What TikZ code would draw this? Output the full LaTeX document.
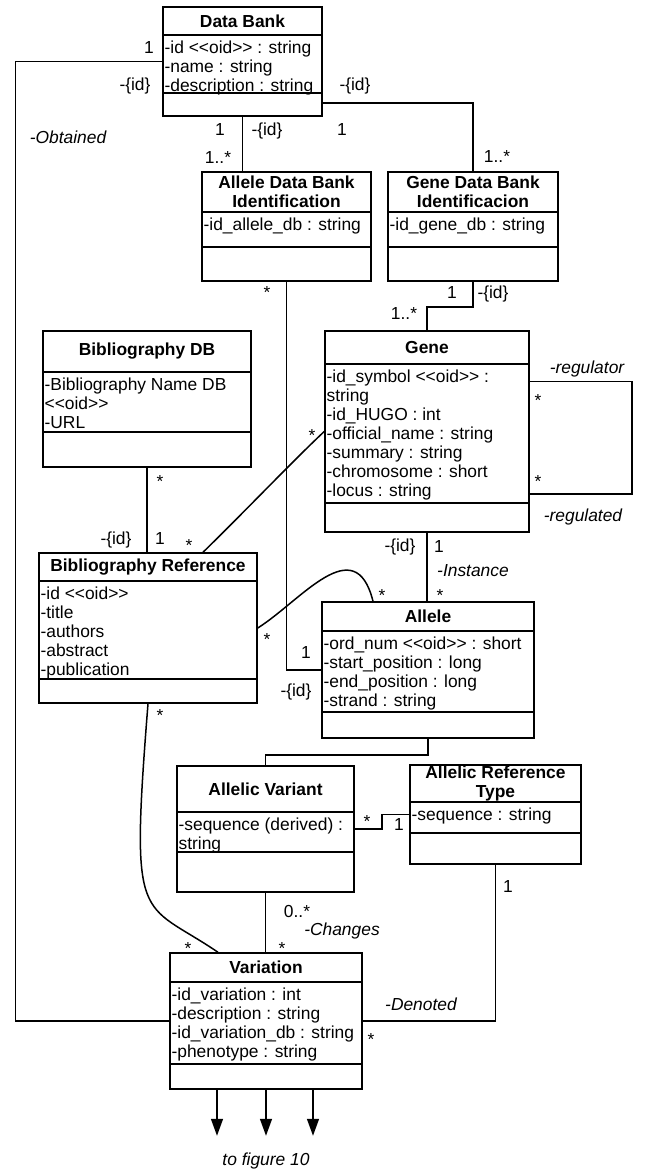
\documentclass[tikz,border=0pt]{standalone}
\usepackage{fontspec}
\setmainfont{Liberation Sans}
\usetikzlibrary{arrows.meta,fit,calc}
\newcommand{\oidtag}{<\kern0pt<oid>\kern0pt>}
% #1 name, #2/#3 top left, #4/#5 bottom right, #6/#7 compartment lines, #8 title, #9 attributes
\newcommand{\umlclass}[9]{%
  \node[cls,fit={(#2,#3) (#4,#5)}] (#1) {};
  \draw[asc] (#2,#6) -- (#4,#6) (#2,#7) -- (#4,#7);
  \node[cname] (#1-n) at ($(#2,#3)!0.5!(#4,#6)$) {#8};
  \foreach \atxt [count=\cnt from 0] in {#9}
    \node[cattr] (#1-a\cnt) at (#2,{#6+18.5+19*\cnt}) {\atxt};
}

\begin{document}
\begin{tikzpicture}[x=0.5pt,y=-0.5pt,font=\fontsize{8.7}{9.5}\selectfont,
  cls/.style={draw,line width=0.75pt,inner sep=0pt},
  asc/.style={line width=0.75pt},
  cname/.style={font=\fontsize{8.7}{9.5}\selectfont\bfseries,align=center,inner sep=0pt},
  cattr/.style={anchor=base west,inner sep=0pt,xshift=0.6pt},
  lbl/.style={anchor=base,inner sep=0pt},
  role/.style={lbl,font=\fontsize{8.7}{9.5}\selectfont\itshape},
  tofig/.style={-{Triangle[length=8.5pt,width=6pt]},line width=0.75pt}]
\useasboundingbox (0,0) rectangle (644,1169);
% ---------------- classes
\umlclass{db}{163}{7}{322}{116}{35}{93}{Data Bank}
  {-id \oidtag{} : string,-name : string,-description : string}
\umlclass{adb}{202}{172}{371}{281}{212}{247}{Allele Data Bank\\Identification}
  {-id\_allele\_db : string}
\umlclass{gdb}{388}{172}{558}{281}{212}{247}{Gene Data Bank\\Identificacion}
  {-id\_gene\_db : string}
\umlclass{bdb}{43}{331}{251}{467}{372}{432}{Bibliography DB}
  {-Bibliography Name DB,\oidtag,-URL}
\umlclass{gene}{325}{331}{529}{532}{364}{503}{Gene}
  {-id\_symbol \oidtag{} :,string,-id\_HUGO : int,-official\_name : string,
   -summary : string,-chromosome : short,-locus : string}
\umlclass{bref}{39}{553}{257}{703}{581}{679}{Bibliography Reference}
  {-id \oidtag,-title,-authors,-abstract,-publication}
\umlclass{allele}{322}{602}{534}{738}{631}{712}{Allele}
  {-ord\_num \oidtag{} : short,-start\_position : long,-end\_position : long,-strand : string}
\umlclass{av}{177}{766}{354}{892}{812}{852}{Allelic Variant}
  {-sequence (derived) :,string}
\umlclass{art}{410}{765}{581}{864}{802}{833}{Allelic Reference\\Type}
  {-sequence : string}
\umlclass{var}{170}{953}{362}{1089}{982}{1064}{Variation}
  {-id\_variation : int,-description : string,-id\_variation\_db : string,-phenotype : string}
% ---------------- associations
\draw[asc] (db.west) -- ++(-147,0) |- (var.west);
\draw[asc] ([yshift=7pt]db.south east) -| (gdb.north);
\draw[asc] (db.south) -- (db.south |- adb.north);
\draw[asc] (gdb.south) -- ++(0,25) -| (gene.north);
\draw[asc] (adb.south) |- (allele.west);
\draw[asc] (bdb.south) -- (bdb.south |- bref.north);
\draw[asc] (gene.south) -- (gene.south |- allele.north);
\draw[asc] ([yshift=-25.5pt]gene.north east) -- ++(102,0) |- ([yshift=19.5pt]gene.south east);
\draw[asc] (allele.south) -- ++(0,16) -| (av.north);
\draw[asc] (av.east) -- ++(27,0) |- (art.west);
\draw[asc] (av.south) -- (av.south |- var.north);
\draw[asc] (art.south) |- (var.east);
\draw[asc] ([xshift=27.5pt]bref.north) .. controls +(42,-41) and +(-30,28) .. (gene.west);
\draw[asc] (bref.east) .. controls +(43,-27) and +(-18,-72) .. ([xshift=-27.5pt]allele.north);
\draw[asc] (bref.south) .. controls +(-18,227) and +(-78,-53) .. ([xshift=-24pt]var.north);
\foreach \dx in {-24.5,0,23.5} \draw[tofig] ([xshift=\dx pt]var.south) -- ++(0,46);
% ---------------- multiplicities and roles
\foreach \x/\y/\lab/\n in {149/53/1/m1,135/90/-\{id\}/m2,355/90/-\{id\}/m3,342/135/1/m4,
  497/162/1..*/m5,220/135/1/m6,267/135/-\{id\}/m7,218/163/1..*/m8,267/298/*/m9,
  452/298/1/m10,493/298/-\{id\}/m11,404/319/1..*/m12,160/487/*/m13,116/544/-\{id\}/m14,
  160/544/1/m15,189/551/*/m16,312/441/*/m17,538/406/*/m18,538/487/*/m19,
  400/551/-\{id\}/m20,439/552/1/m21,440/601/*/m22,382/601/*/m23,267/645/*/m24,
  306/658/1/m25,296/696/-\{id\}/m26,160/721/*/m27,367/827/*/m28,399/830/1/m29,
  508/892/1/m30,297/917/0..*/m31,188/954/*/m32,282/954/*/m33,371/1045/*/m34}
  \node[lbl] (\n) at (\x,\y) {\lab};
\foreach \x/\y/\lab/\n in {68/143/-Obtained/r1,587/373/-regulator/r2,583/521/-regulated/r3,
  473/576/-Instance/r4,342/935/-Changes/r5,421/1010/-Denoted/r6,266/1165/to figure 10/r7}
  \node[role] (\n) at (\x,\y) {\lab};
\end{tikzpicture}
\end{document}
